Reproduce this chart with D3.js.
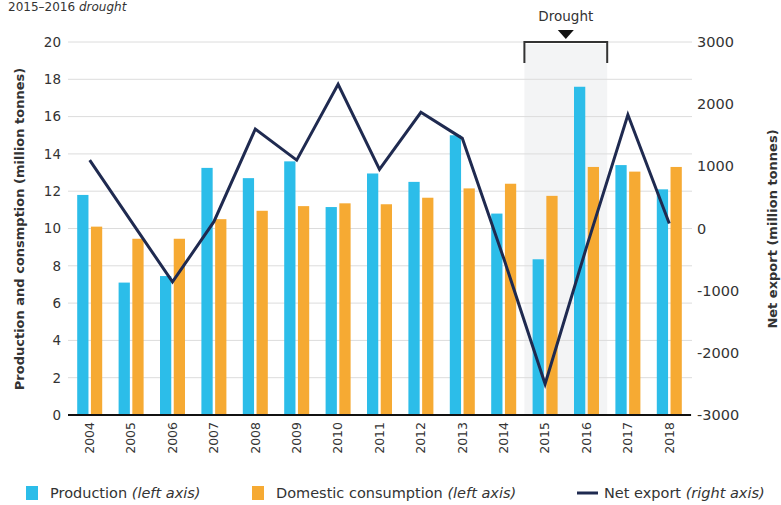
<!DOCTYPE html>
<html>
<head>
<meta charset="utf-8">
<script src="https://cdn.jsdelivr.net/npm/d3@7"></script>
<style>
  body { margin: 0; background: #fff; }
  svg text { font-family: "DejaVu Sans", sans-serif; fill: #333; }
</style>
</head>
<body>
<div id="chart"></div>
<script>
var svgWidth = 781;
var svgHeight = 505;

// data
var years = ["2004", "2005", "2006", "2007", "2008", "2009", "2010", "2011",
             "2012", "2013", "2014", "2015", "2016", "2017", "2018"];
var production = [11.8, 7.1, 7.45, 13.25, 12.7, 13.6, 11.15, 12.95, 12.5, 15.0, 10.8, 8.35, 17.6, 13.4, 12.1];
var consumption = [10.1, 9.45, 9.45, 10.5, 10.95, 11.2, 11.35, 11.3, 11.65, 12.15, 12.4, 11.75, 13.3, 13.05, 13.3];
var netExport = [1100, 120, -860, 110, 1600, 1100, 2320, 950, 1870, 1450, -480, -2500, -300, 1830, 80];
var leftTicks = [0, 2, 4, 6, 8, 10, 12, 14, 16, 18, 20];
var rightTicks = [-3000, -2000, -1000, 0, 1000, 2000, 3000];
var droughtYears = ["2015", "2016"];

var data = years.map(function(y, i) {
  return { year: y, production: production[i], consumption: consumption[i], net: netExport[i] };
});

var colors = { production: "#2cbde9", consumption: "#f6aa33", net: "#1f2a50" };

var svg = d3.select("#chart").append("svg")
  .attr("width", svgWidth)
  .attr("height", svgHeight);

var x = d3.scaleBand().domain(years).range([69, 690]).padding(0);
var xSub = d3.scaleBand()
  .domain(["production", "consumption"])
  .range([x.bandwidth() / 2 - 12.5, x.bandwidth() / 2 + 12.5])
  .paddingInner(0.18);
var yLeft = d3.scaleLinear().domain([0, 20]).range([415, 42]);
var yRight = d3.scaleLinear().domain([-3000, 3000]).range([415, 42]);

// heading at the very top (cut off in the source)
svg.append("text")
  .attr("x", 8).attr("y", 11)
  .style("font-size", "12px")
  .attr("fill", "#555")
  .html('2015–2016 <tspan font-style="italic">drought</tspan>');

// drought shading
svg.append("rect")
  .attr("x", x(droughtYears[0]))
  .attr("y", 44)
  .attr("width", x.bandwidth() * droughtYears.length)
  .attr("height", yLeft(0) - 44)
  .attr("fill", "#f3f4f5");

// gridlines
svg.append("g").selectAll("line")
  .data(leftTicks)
  .enter().append("line")
  .attr("x1", 68).attr("x2", 692)
  .attr("y1", d => yLeft(d)).attr("y2", d => yLeft(d))
  .attr("stroke", "#dcdcdc")
  .attr("stroke-width", 1);

// left axis
var leftAxis = d3.axisLeft(yLeft).tickValues(leftTicks).tickSize(0).tickPadding(0);
svg.append("g")
  .attr("transform", "translate(61,0)")
  .call(leftAxis)
  .call(g => g.select(".domain").remove())
  .selectAll("text")
  .style("font-family", "DejaVu Sans")
  .style("font-size", "13.5px")
  .attr("fill", "#333");

// right axis
var rightAxis = d3.axisRight(yRight).tickValues(rightTicks).tickSize(0).tickPadding(0)
  .tickFormat(d => String(d));
svg.append("g")
  .attr("transform", "translate(697,0)")
  .call(rightAxis)
  .call(g => g.select(".domain").remove())
  .selectAll("text")
  .style("font-family", "DejaVu Sans")
  .style("font-size", "14.5px")
  .attr("fill", "#333");

// bars
var groups = svg.append("g").selectAll("g")
  .data(data)
  .enter().append("g")
  .attr("transform", d => `translate(${x(d.year)},0)`);

groups.selectAll("rect")
  .data(d => ["production", "consumption"].map(k => ({ key: k, value: d[k] })))
  .enter().append("rect")
  .attr("x", d => xSub(d.key))
  .attr("width", xSub.bandwidth())
  .attr("y", d => yLeft(d.value))
  .attr("height", d => yLeft(0) - yLeft(d.value))
  .attr("fill", d => colors[d.key]);

// baseline + year labels
var bottomAxis = d3.axisBottom(x).tickSize(0).tickPadding(0);
var xAxisG = svg.append("g")
  .attr("transform", `translate(0,${yLeft(0)})`)
  .call(bottomAxis);
xAxisG.select(".domain")
  .attr("d", "M68,0H691")
  .attr("stroke", "#111")
  .attr("stroke-width", 2.2);
xAxisG.selectAll("text")
  .style("font-family", "DejaVu Sans")
  .style("font-size", "12.5px")
  .attr("fill", "#333")
  .attr("text-anchor", "end")
  .attr("transform", "rotate(-90)")
  .attr("x", -7)
  .attr("y", 0)
  .attr("dy", "0.35em");

// net export line
var line = d3.line()
  .x(d => x(d.year) + x.bandwidth() / 2)
  .y(d => yRight(d.net));
svg.append("path")
  .datum(data)
  .attr("d", line)
  .attr("fill", "none")
  .attr("stroke", colors.net)
  .attr("stroke-width", 3)
  .attr("stroke-linejoin", "miter");

// drought bracket
var dx0 = x(droughtYears[0]);
var dx1 = x(droughtYears[1]) + x.bandwidth();
var dmid = (dx0 + dx1) / 2;
svg.append("path")
  .attr("d", `M${dx0},63V42H${dx1}V63`)
  .attr("fill", "none")
  .attr("stroke", "#333")
  .attr("stroke-width", 2);
svg.append("path")
  .attr("d", `M${dmid - 8},30H${dmid + 8}L${dmid},39Z`)
  .attr("fill", "#111");
svg.append("text")
  .attr("x", dmid).attr("y", 21)
  .attr("text-anchor", "middle")
  .style("font-size", "13.5px")
  .text("Drought");

// axis titles
svg.append("text")
  .attr("transform", "translate(24,229) rotate(-90)")
  .attr("text-anchor", "middle")
  .style("font-size", "13px")
  .style("font-weight", "bold")
  .attr("fill", "#222")
  .text("Production and consmption (million tonnes)");
svg.append("text")
  .attr("transform", "translate(777,229) rotate(-90)")
  .attr("text-anchor", "middle")
  .style("font-size", "13px")
  .style("font-weight", "bold")
  .attr("fill", "#222")
  .text("Net export (million tonnes)");

// legend
var legend = svg.append("g");
var legendItems = [
  { kind: "rect", color: colors.production, x: 26, label: "Production ", note: "(left axis)" },
  { kind: "rect", color: colors.consumption, x: 252, label: "Domestic consumption ", note: "(left axis)" },
  { kind: "line", color: colors.net, x: 577, label: "Net export ", note: "(right axis)" }
];
legendItems.forEach(function(it) {
  if (it.kind === "rect") {
    legend.append("rect")
      .attr("x", it.x).attr("y", 486)
      .attr("width", 12).attr("height", 14)
      .attr("fill", it.color);
  } else {
    legend.append("line")
      .attr("x1", it.x).attr("x2", it.x + 21)
      .attr("y1", 493).attr("y2", 493)
      .attr("stroke", it.color)
      .attr("stroke-width", 3);
  }
  var t = legend.append("text")
    .attr("x", it.x + (it.kind === "rect" ? 24 : 27))
    .attr("y", 498)
    .style("font-size", "14.5px");
  t.append("tspan").text(it.label);
  t.append("tspan").attr("font-style", "italic").text(it.note);
});
</script>
</body>
</html>
